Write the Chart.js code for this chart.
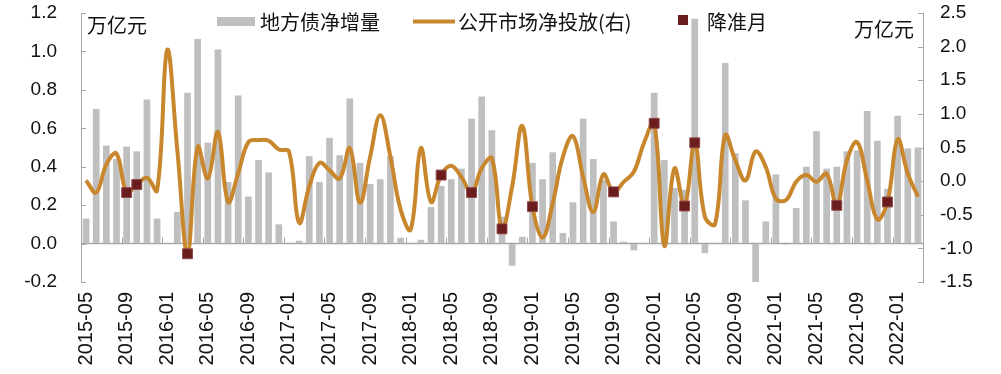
<!DOCTYPE html>
<html>
<head>
<meta charset="utf-8">
<script src="https://cdn.jsdelivr.net/npm/chart.js@4.4.1/dist/chart.umd.min.js"></script>
<style>
    html, body { margin: 0; padding: 0; background: #fff; }
</style>
</head>
<body>
<canvas id="chart" width="1001" height="374"></canvas>
<script>
const months = [
    "2015-05", "2015-06", "2015-07", "2015-08", "2015-09", "2015-10", "2015-11", "2015-12",
    "2016-01", "2016-02", "2016-03", "2016-04", "2016-05", "2016-06", "2016-07", "2016-08", "2016-09", "2016-10", "2016-11", "2016-12",
    "2017-01", "2017-02", "2017-03", "2017-04", "2017-05", "2017-06", "2017-07", "2017-08", "2017-09", "2017-10", "2017-11", "2017-12",
    "2018-01", "2018-02", "2018-03", "2018-04", "2018-05", "2018-06", "2018-07", "2018-08", "2018-09", "2018-10", "2018-11", "2018-12",
    "2019-01", "2019-02", "2019-03", "2019-04", "2019-05", "2019-06", "2019-07", "2019-08", "2019-09", "2019-10", "2019-11", "2019-12",
    "2020-01", "2020-02", "2020-03", "2020-04", "2020-05", "2020-06", "2020-07", "2020-08", "2020-09", "2020-10", "2020-11", "2020-12",
    "2021-01", "2021-02", "2021-03", "2021-04", "2021-05", "2021-06", "2021-07", "2021-08", "2021-09", "2021-10", "2021-11", "2021-12",
    "2022-01", "2022-02", "2022-03"
];

// 地方债净增量, 万亿元 (left axis)
const localDebt = [
    0.13, 0.70, 0.51, 0.44, 0.505, 0.48, 0.75, 0.13,
    0.00, 0.165, 0.785, 1.065, 0.525, 1.01, 0.32, 0.77, 0.245, 0.435, 0.37, 0.10,
    0.00, 0.015, 0.455, 0.32, 0.55, 0.46, 0.755, 0.42, 0.31, 0.335, 0.455, 0.03,
    0.00, 0.02, 0.19, 0.30, 0.335, 0.39, 0.65, 0.765, 0.59, 0.14, -0.115, 0.035,
    0.42, 0.335, 0.475, 0.055, 0.215, 0.65, 0.44, 0.33, 0.115, 0.01, -0.035, 0.00,
    0.785, 0.435, 0.29, 0.28, 1.17, -0.05, 0.00, 0.94, 0.47, 0.225, -0.205, 0.115,
    0.36, -0.005, 0.185, 0.40, 0.585, 0.39, 0.40, 0.48, 0.485, 0.69, 0.535, 0.285,
    0.665, 0.495, 0.50
];

// 公开市场净投放, 万亿元 (right axis)
const openMarket = [
    0.01, -0.17, 0.25, 0.41, -0.17, -0.05, 0.05, -0.14,
    1.95, 0.45, -1.08, 0.51, 0.04, 0.73, -0.31, 0.12, 0.58, 0.61, 0.60, 0.47,
    0.44, -0.62, -0.08, 0.27, 0.16, 0.04, 0.49, -0.32, 0.36, 0.98, 0.36, -0.42,
    -0.72, 0.49, -0.31, 0.09, 0.23, 0.06, -0.17, 0.19, 0.34, -0.71, -0.08, 0.82,
    -0.38, -0.84, -0.33, 0.36, 0.67, 0.06, -0.46, 0.10, -0.16, -0.01, 0.14, 0.57,
    0.86, -0.96, 0.19, -0.37, 0.57, -0.53, -0.64, 0.68, 0.31, 0.01, 0.44, 0.21,
    -0.26, -0.28, -0.01, 0.09, -0.01, 0.11, -0.36, 0.31, 0.58, 0.01, -0.57, -0.31,
    0.62, 0.11, -0.23
];

// 降准月
const rrrCutMonths = [
    "2015-09", "2015-10", "2016-03", "2018-04", "2018-07", "2018-10", "2019-01",
    "2019-09", "2020-01", "2020-04", "2020-05", "2021-07", "2021-12"
];

const xTickLabels = [
    "2015-05", "2015-09", "2016-01", "2016-05", "2016-09", "2017-01", "2017-05", "2017-09",
    "2018-01", "2018-05", "2018-09", "2019-01", "2019-05", "2019-09", "2020-01", "2020-05",
    "2020-09", "2021-01", "2021-05", "2021-09", "2022-01"
];
const leftTicks = [-0.2, 0.0, 0.2, 0.4, 0.6, 0.8, 1.0, 1.2];
const rightTicks = [-1.5, -1.0, -0.5, 0.0, 0.5, 1.0, 1.5, 2.0, 2.5];

const seriesNames = ["地方债净增量", "公开市场净投放(右)", "降准月"];
const unitLabel = "万亿元";

const barColor = "#BFBFBF";
const lineColor = "#C8862D";
const markColor = "#6B1D1D";
const axisGray = "#A6A6A6";
const textColor = "#111";
const numFont = '"Liberation Sans", Arial, sans-serif';
const cjkFont = '"Noto Sans CJK SC", "Liberation Sans", sans-serif';

const markData = months.map((m, i) => rrrCutMonths.includes(m) ? openMarket[i] : null);

const frame = {
    id: "frame",
    beforeDatasetsDraw(chart) {
        const { ctx, chartArea: a, scales: { x, y, y1 } } = chart;
        const y0 = y.getPixelForValue(0);
        const half = (x.getPixelForValue(1) - x.getPixelForValue(0)) / 2;
        ctx.save();
        ctx.strokeStyle = axisGray;
        ctx.lineWidth = 1.5;
        ctx.beginPath();
        ctx.moveTo(a.left, y0);
        ctx.lineTo(a.right, y0);
        ctx.stroke();

        ctx.lineWidth = 1;
        ctx.beginPath();
        months.forEach((m, i) => {
            if (i > 0 && xTickLabels.includes(m)) {
                const px = Math.round(x.getPixelForValue(i) - half) + 0.5;
                ctx.moveTo(px, y0);
                ctx.lineTo(px, y0 - 6);
            }
        });
        leftTicks.forEach(v => {
            const py = Math.round(y.getPixelForValue(v)) + 0.5;
            ctx.moveTo(a.left, py);
            ctx.lineTo(a.left + 5, py);
        });
        rightTicks.forEach(v => {
            const py = Math.round(y1.getPixelForValue(v)) + 0.5;
            ctx.moveTo(a.right, py);
            ctx.lineTo(a.right - 5, py);
        });
        ctx.stroke();
        ctx.restore();
    },
    afterDraw(chart) {
        const { ctx, chartArea: a } = chart;
        ctx.save();
        ctx.font = `20px ${cjkFont}`;
        ctx.fillStyle = textColor;
        ctx.textBaseline = "middle";

        // axis units
        ctx.textAlign = "left";
        ctx.fillText(unitLabel, a.left + 6, a.top + 12);
        ctx.textAlign = "right";
        ctx.fillText(unitLabel, a.right - 9, a.top + 16);

        // legend
        ctx.textAlign = "left";
        ctx.fillStyle = barColor;
        ctx.fillRect(217, 17, 38, 9);
        ctx.fillStyle = textColor;
        ctx.fillText(seriesNames[0], 260, 22);

        ctx.strokeStyle = lineColor;
        ctx.lineWidth = 4;
        ctx.beginPath();
        ctx.moveTo(413, 21.5);
        ctx.lineTo(455, 21.5);
        ctx.stroke();
        ctx.fillText(seriesNames[1], 458, 22);

        ctx.fillStyle = markColor;
        ctx.fillRect(678, 15, 10, 10);
        ctx.fillStyle = textColor;
        ctx.fillText(seriesNames[2], 707, 22);
        ctx.restore();
    }
};

// tick marks kept invisible outside the plot; they only hold the label gap
const hiddenTicks = len => ({
    display: true,
    drawOnChartArea: false,
    drawTicks: true,
    tickLength: len,
    tickColor: "rgba(0,0,0,0)"
});

new Chart(document.getElementById("chart"), {
    type: "bar",
    data: {
        labels: months,
        datasets: [
            {
                type: "bar",
                label: seriesNames[0],
                data: localDebt,
                yAxisID: "y",
                backgroundColor: barColor,
                barPercentage: 0.66,
                categoryPercentage: 1,
                order: 3
            },
            {
                type: "line",
                label: seriesNames[1],
                data: openMarket,
                yAxisID: "y1",
                borderColor: lineColor,
                borderWidth: 4,
                tension: 0.4,
                pointRadius: 0,
                fill: false,
                order: 2
            },
            {
                type: "line",
                label: seriesNames[2],
                data: markData,
                yAxisID: "y1",
                showLine: false,
                pointStyle: "rect",
                pointRadius: 7,
                pointBackgroundColor: markColor,
                pointBorderColor: "#8E4A4A",
                pointBorderWidth: 1,
                order: 1
            }
        ]
    },
    options: {
        responsive: false,
        devicePixelRatio: 1,
        animation: false,
        events: [],
        layout: { padding: { top: 13, left: 0, right: 0, bottom: 0 } },
        plugins: {
            legend: { display: false },
            tooltip: { enabled: false }
        },
        scales: {
            x: {
                grid: { display: false, drawTicks: false },
                border: { display: false },
                afterFit: s => { s.height = 92; },
                ticks: {
                    autoSkip: false,
                    minRotation: 90,
                    maxRotation: 90,
                    padding: 10,
                    color: textColor,
                    font: { family: numFont, size: 20 },
                    callback: (v, i) => xTickLabels.includes(months[i]) ? months[i] : ""
                }
            },
            y: {
                position: "left",
                min: -0.2,
                max: 1.2,
                afterBuildTicks: s => { s.ticks = leftTicks.map(v => ({ value: v })); },
                afterFit: s => { s.width = 81; },
                grid: hiddenTicks(23),
                border: { display: true, color: axisGray, width: 1 },
                ticks: {
                    padding: 1,
                    color: textColor,
                    font: { family: numFont, size: 19 },
                    callback: v => v.toFixed(1)
                }
            },
            y1: {
                position: "right",
                min: -1.5,
                max: 2.5,
                afterBuildTicks: s => { s.ticks = rightTicks.map(v => ({ value: v })); },
                afterFit: s => { s.width = 78; },
                grid: hiddenTicks(16),
                border: { display: true, color: axisGray, width: 1 },
                ticks: {
                    padding: 1,
                    color: textColor,
                    font: { family: numFont, size: 19 },
                    callback: v => v.toFixed(1)
                }
            }
        }
    },
    plugins: [frame]
});
</script>
</body>
</html>
